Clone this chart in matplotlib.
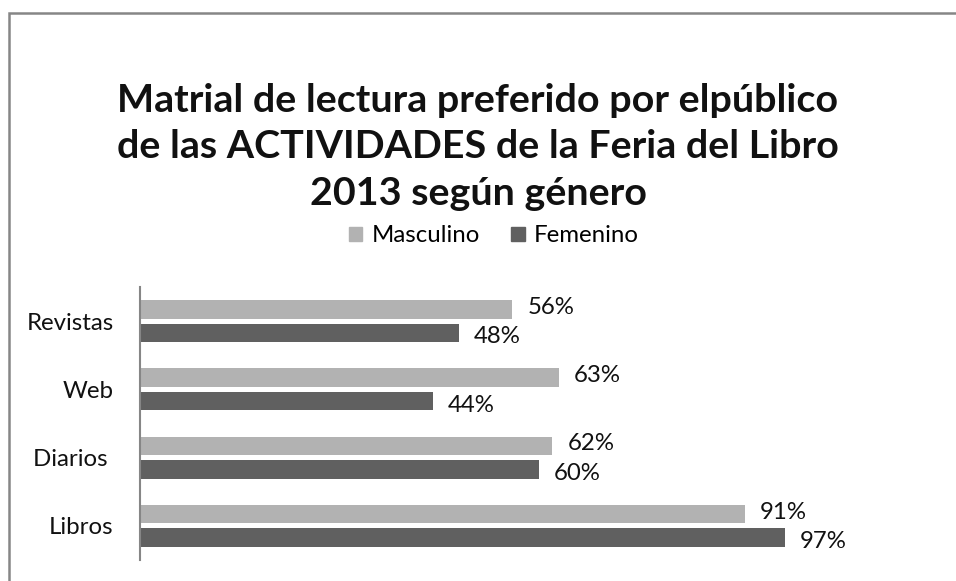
import matplotlib
matplotlib.use("Agg")
import matplotlib.pyplot as plt
from matplotlib.patches import Rectangle

categories = ["Libros", "Diarios ", "Web", "Revistas"]
masculino = [91, 62, 63, 56]
femenino = [97, 60, 44, 48]
series_names = ["Masculino", "Femenino"]
title = "Matrial de lectura preferido por elpúblico\nde las ACTIVIDADES de la Feria del Libro\n2013 según género"

c_m = "#B2B2B2"
c_f = "#606060"
FONT = "Lato"
FS = 17.3

W, H = 956, 581
fig = plt.figure(figsize=(W / 100, H / 100), dpi=100)
fig.patch.set_facecolor("white")

# outer border (top & left visible)
fig.add_artist(Rectangle((8.5 / W, -0.1), 1.2, (H - 13) / H + 0.1, transform=fig.transFigure,
                         fill=False, edgecolor="#868686", linewidth=1.8))

ax_l, ax_r, ax_t, ax_b = 140, 805, 287, 560
ax = fig.add_axes([ax_l / W, 1 - ax_b / H, (ax_r - ax_l) / W, (ax_b - ax_t) / H])
ax.set_xlim(0, 100)
ax.set_ylim(-0.5, 3.5)

y = list(range(len(categories)))
off = 0.172
h = 0.27
ax.barh([v + off for v in y], masculino, height=h, color=c_m)
ax.barh([v - off for v in y], femenino, height=h, color=c_f)

for yi, m, f in zip(y, masculino, femenino):
    ax.annotate(f"{m}%", (m, yi + off), xytext=(15, 2), textcoords="offset pixels",
                ha="left", va="center", fontsize=FS, family=FONT, color="#111111")
    ax.annotate(f"{f}%", (f, yi - off), xytext=(15, -4), textcoords="offset pixels",
                ha="left", va="center", fontsize=FS, family=FONT, color="#111111")

ax.set_yticks(y)
ax.set_yticklabels(categories, fontsize=FS, family=FONT, color="#111111")
ax.tick_params(axis="y", length=0, pad=19)
ax.set_xticks([])
for s in ["top", "right", "bottom"]:
    ax.spines[s].set_visible(False)
ax.spines["left"].set_color("#868686")
ax.spines["left"].set_linewidth(1.5)

fig.text(478 / W, 1 - 147 / H, title, ha="center", va="center", fontsize=28.4,
         fontweight="bold", family=FONT, linespacing=1.38, color="#111111")

handles = [Rectangle((0, 0), 1, 1, color=c_m), Rectangle((0, 0), 1, 1, color=c_f)]
fig.legend(handles, series_names, loc="center", bbox_to_anchor=(494 / W, 1 - 236 / H),
           ncol=2, frameon=False, prop={"family": FONT, "size": FS},
           handlelength=0.55, handleheight=0.55, handletextpad=0.4, columnspacing=1.3)

fig.savefig("out.png", dpi=100)
